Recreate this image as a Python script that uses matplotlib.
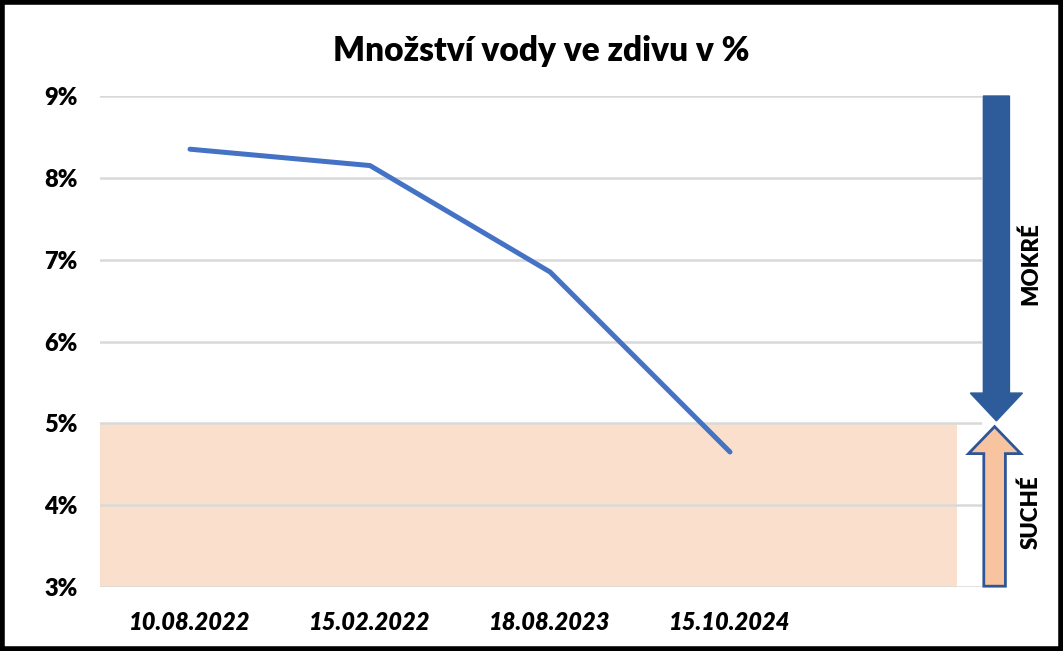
import numpy as np
import matplotlib.pyplot as plt
from matplotlib.patches import FancyArrow, Rectangle

# data
dates = ["10.08.2022", "15.02.2022", "18.08.2023", "15.10.2024", ""]
water = [8.35, 8.15, 6.85, 4.65]
yticks = [3, 4, 5, 6, 7, 8, 9]
dry_limit = 5
wet_top = 9

plt.rcParams['font.family'] = ['Lato', 'DejaVu Sans']

fig = plt.figure(figsize=(10.63, 6.51), dpi=100)
ax = fig.add_axes([100 / 1063, 1 - 587 / 651, 882 / 1063, 491 / 651])

x = np.arange(len(dates))
ax.set_xlim(-0.5, 4.4)
ax.set_ylim(3, 9)

# dry zone
ax.add_patch(Rectangle((-0.5, 3), 4.76, dry_limit - 3, facecolor='#FADFCC',
                       edgecolor='none', zorder=1))

ax.plot(x[:len(water)], water, color='#4472C4', lw=3.6, zorder=3,
        solid_capstyle='round', solid_joinstyle='round')

ax.set_yticks(yticks)
ax.set_yticklabels([f"{v}%" for v in yticks], fontsize=17, fontweight='heavy')
ax.set_xticks(x[:4])
ax.set_xticklabels(dates[:4], fontsize=17, fontweight='heavy', style='italic')
ax.tick_params(length=0)
ax.tick_params(axis='x', pad=17)
ax.tick_params(axis='y', pad=16)
ax.grid(axis='y', color='#D9D9D9', lw=1.8, zorder=0)
for s in ax.spines.values():
    s.set_visible(False)

ax.set_title("Množství vody ve zdivu v %", fontsize=24, fontweight='heavy', pad=25)

# arrows
ax.add_patch(FancyArrow(4.48, wet_top, 0, dry_limit - wet_top + 0.03, width=0.145,
                        head_width=0.29, head_length=0.34, length_includes_head=True,
                        facecolor='#2E5C9A', edgecolor='#2E5C9A', clip_on=False, zorder=4))
ax.add_patch(FancyArrow(4.47, 3.01, 0, dry_limit - 3.05, width=0.12,
                        head_width=0.29, head_length=0.33, length_includes_head=True,
                        facecolor='#F8C4A0', edgecolor='#2F5597', lw=2, clip_on=False, zorder=4))

ax.text(4.67, 6.95, "MOKRÉ", rotation=90, ha='center', va='center',
        fontsize=16, fontweight='heavy', clip_on=False)
ax.text(4.67, 3.92, "SUCHÉ", rotation=90, ha='center', va='center',
        fontsize=16, fontweight='heavy', clip_on=False)

# frame round the whole picture
fig.add_artist(Rectangle((0.002, 0.003), 0.996, 0.994, transform=fig.transFigure,
                         fill=False, edgecolor='black', lw=4))

fig.savefig("out.png", dpi=100)
